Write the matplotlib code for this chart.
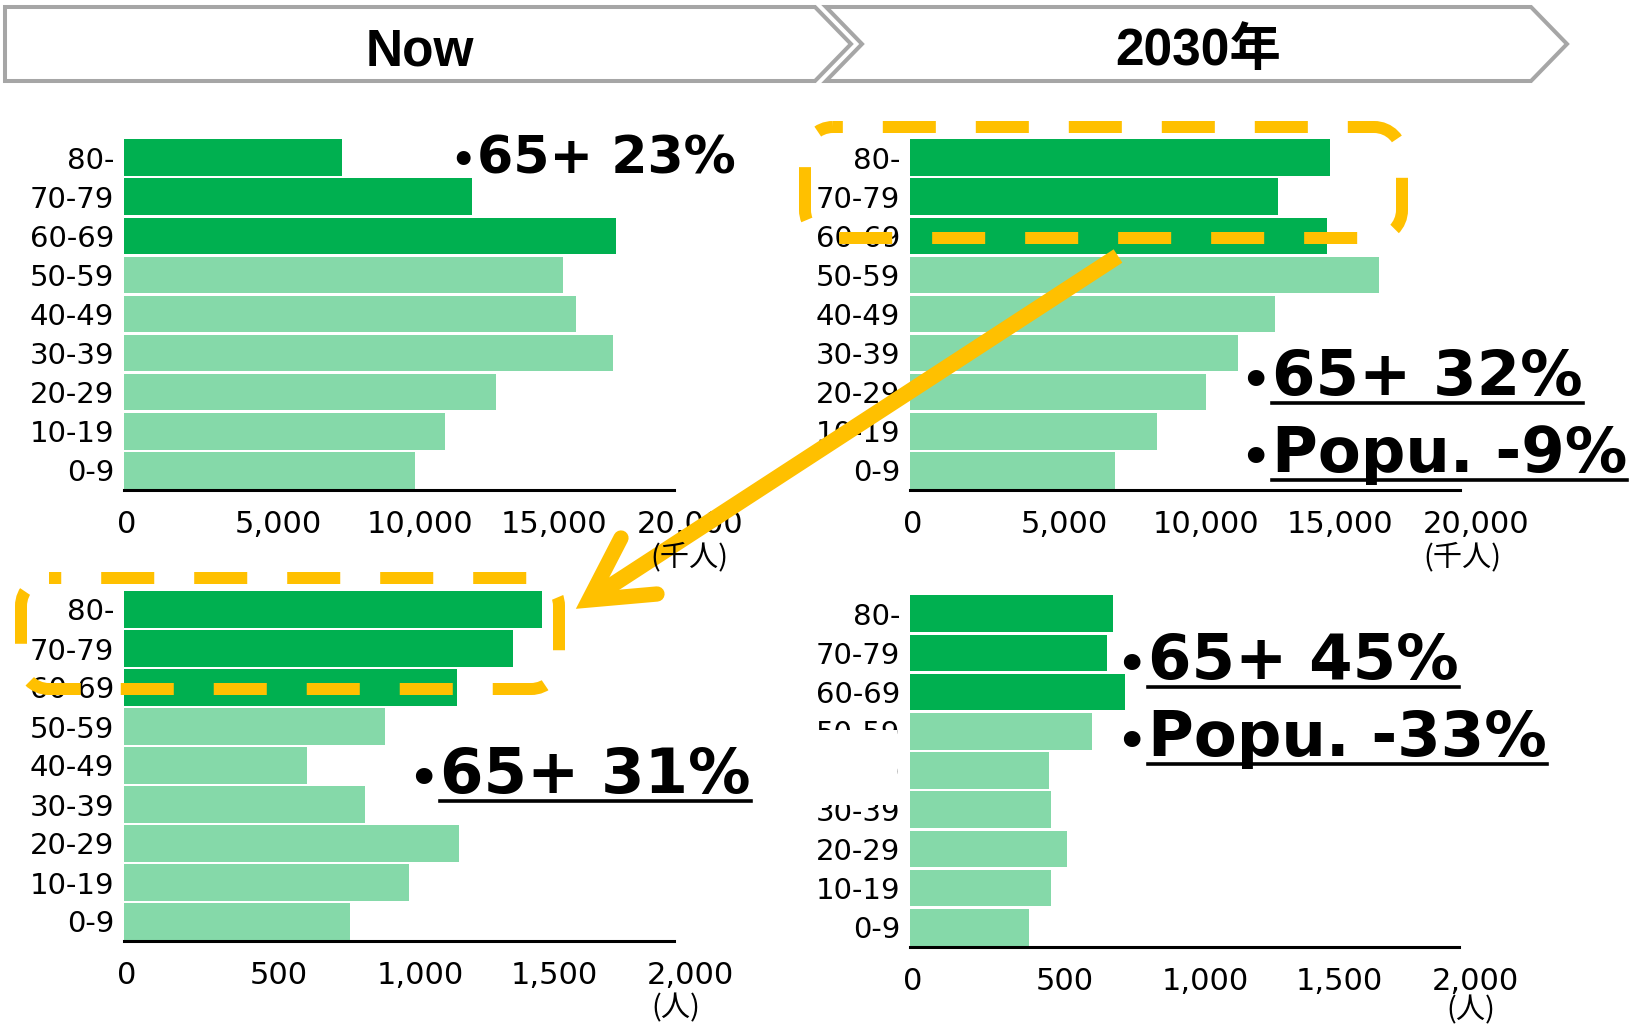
import matplotlib
matplotlib.use('Agg')
import matplotlib.pyplot as plt
import matplotlib.transforms as mtransforms
from matplotlib.patches import Polygon, Rectangle, PathPatch
from matplotlib.path import Path
from matplotlib.lines import Line2D

# population by age group (bottom to top)
ages = ['0-9', '10-19', '20-29', '30-39', '40-49', '50-59', '60-69', '70-79', '80-']
japan_now = [10570, 11660, 13520, 17800, 16440, 15980, 17880, 12650, 7940]     # 千人
japan_2030 = [7450, 8970, 10750, 11940, 13280, 17040, 15160, 13400, 15260]     # 千人
town_now = [822, 1037, 1219, 876, 665, 948, 1210, 1416, 1521]                 # 人
town_2030 = [435, 513, 573, 515, 505, 662, 784, 716, 741]                     # 人
older = ['60-69', '70-79', '80-']
big_ticks = [0, 5000, 10000, 15000, 20000]
small_ticks = [0, 500, 1000, 1500, 2000]
headers = ['Now', '2030年']

W, H = 1633, 1030
DARK = '#00B050'
LIGHT = '#85D9A9'
YELLOW = '#FFC000'
GRAY = '#A6A6A6'
shift_px = [3, 17, 21, 18, 16]

fig = plt.figure(figsize=(W / 100, H / 100), dpi=100)


def px_axes(x0, y0, x1, y1, **kw):
    return fig.add_axes([x0 / W, 1 - y1 / H, (x1 - x0) / W, (y1 - y0) / H], **kw)


def pyramid(rect, values, ticks):
    ax = px_axes(*rect)
    colors = [DARK if a in older else LIGHT for a in ages]
    ax.barh(range(len(ages)), values, height=0.93, color=colors)
    ax.set_ylim(-0.5, len(ages) - 0.5)
    ax.set_xlim(ticks[0], ticks[-1])
    ax.set_yticks(range(len(ages)), ages, fontsize=21)
    ax.set_xticks(ticks, [f'{t:,}' for t in ticks], fontsize=22)
    ax.tick_params(axis='y', length=0, pad=7)
    ax.tick_params(axis='x', length=0, pad=14.5)
    for s in ('top', 'right', 'left'):
        ax.spines[s].set_visible(False)
    ax.spines['bottom'].set_linewidth(2.2)
    ax.patch.set_alpha(0)
    for lab, dx in zip(ax.get_xticklabels(), shift_px):
        lab.set_transform(lab.get_transform()
                          + mtransforms.ScaledTranslation(dx / 100, 0, fig.dpi_scale_trans))
    return ax


pyramid((124, 138, 674, 490), japan_now, big_ticks)
pyramid((910, 138, 1460, 490), japan_2030, big_ticks)
pyramid((124, 590, 674, 941), town_now, small_ticks)
pyramid((910, 594, 1459, 947), town_2030, small_ticks)

# overlay in pixel coordinates
ov = fig.add_axes([0, 0, 1, 1], zorder=10)
ov.set_xlim(0, W)
ov.set_ylim(H, 0)
ov.axis('off')

# header chevrons
ov.add_patch(Polygon([(5, 7), (815, 7), (851, 44), (815, 81), (5, 81)], closed=True,
                     fc='white', ec=GRAY, lw=2.9, joinstyle='miter'))
ov.add_patch(Polygon([(826, 7), (1531, 7), (1567, 44), (1531, 81), (826, 81), (862, 44)],
                     closed=True, fc='white', ec=GRAY, lw=2.9, joinstyle='miter'))
for x, t in zip([420, 1198], headers):
    ov.text(x, 65, t, ha='center', va='baseline', fontsize=37, fontweight='bold',
            family=['Liberation Sans', 'Noto Sans CJK JP'])

# units
cjk = ['Noto Sans CJK JP', 'DejaVu Sans']
ov.text(689, 557, '(千人)', ha='center', va='center', fontsize=21, family=cjk)
ov.text(1462, 557, '(千人)', ha='center', va='center', fontsize=21, family=cjk)
ov.text(676, 1008, '(人)', ha='center', va='center', fontsize=21, family=cjk)
ov.text(1471, 1010, '(人)', ha='center', va='center', fontsize=21, family=cjk)

# white box hiding part of the lower right labels
ov.add_patch(Rectangle((780, 730), 117, 75, fc='white', ec='none'))

# annotations: body x, baseline, text, size, underline
notes = [
    (477, 173, '65+ 23%', 37.5, False),
    (1272, 395, '65+ 32%', 45, True),
    (1272, 472, 'Popu. -9%', 45, True),
    (440, 793, '65+ 31%', 45, True),
    (1148, 679, '65+ 45%', 45, True),
    (1148, 756, 'Popu. -33%', 45, True),
]
body = []
for tx, base, t, size, ul in notes:
    txt = ov.text(tx, base, t, ha='left', va='baseline', fontsize=size,
                  fontweight='bold')
    body.append((txt, base, size, ul))

fig.canvas.draw()
r = fig.canvas.get_renderer()
for txt, base, size, ul in body:
    bb = txt.get_window_extent(r)
    ov.text(bb.x0 - 1, base, '•', ha='right', va='baseline', fontsize=size * 0.76,
            fontweight='bold')
    if ul:
        ov.add_line(Line2D([bb.x0, bb.x1], [base + 8, base + 8], color='black', lw=2.6))


def dashed_box(x0, y0, x1, y1, rad, offset):
    k = 0.5523 * rad
    verts = [(x0 + rad, y0), (x1 - rad, y0),
             (x1 - rad + k, y0), (x1, y0 + rad - k), (x1, y0 + rad),
             (x1, y1 - rad),
             (x1, y1 - rad + k), (x1 - rad + k, y1), (x1 - rad, y1),
             (x0 + rad, y1),
             (x0 + rad - k, y1), (x0, y1 - rad + k), (x0, y1 - rad),
             (x0, y0 + rad),
             (x0, y0 + rad - k), (x0 + rad - k, y0), (x0 + rad, y0)]
    C = Path.CURVE4
    codes = [Path.MOVETO, Path.LINETO, C, C, C, Path.LINETO, C, C, C,
             Path.LINETO, C, C, C, Path.LINETO, C, C, C]
    ov.add_patch(PathPatch(Path(verts, codes), fill=False, ec=YELLOW, lw=8.64,
                           linestyle=(offset, (4.42, 3.33)), capstyle='butt'))


dashed_box(805, 127, 1402, 238, 28, 3.6)
dashed_box(21, 578, 559, 689, 28, 3.4)

# arrow from the 2030 elderly to the town chart
ov.add_line(Line2D([1118, 589], [256, 600], color=YELLOW, lw=11.5, solid_capstyle='butt'))
ov.add_line(Line2D([621, 589, 657], [538, 600, 594], color=YELLOW, lw=11,
                   solid_joinstyle='miter', solid_capstyle='round'))

fig.savefig('out.png', dpi=100)
